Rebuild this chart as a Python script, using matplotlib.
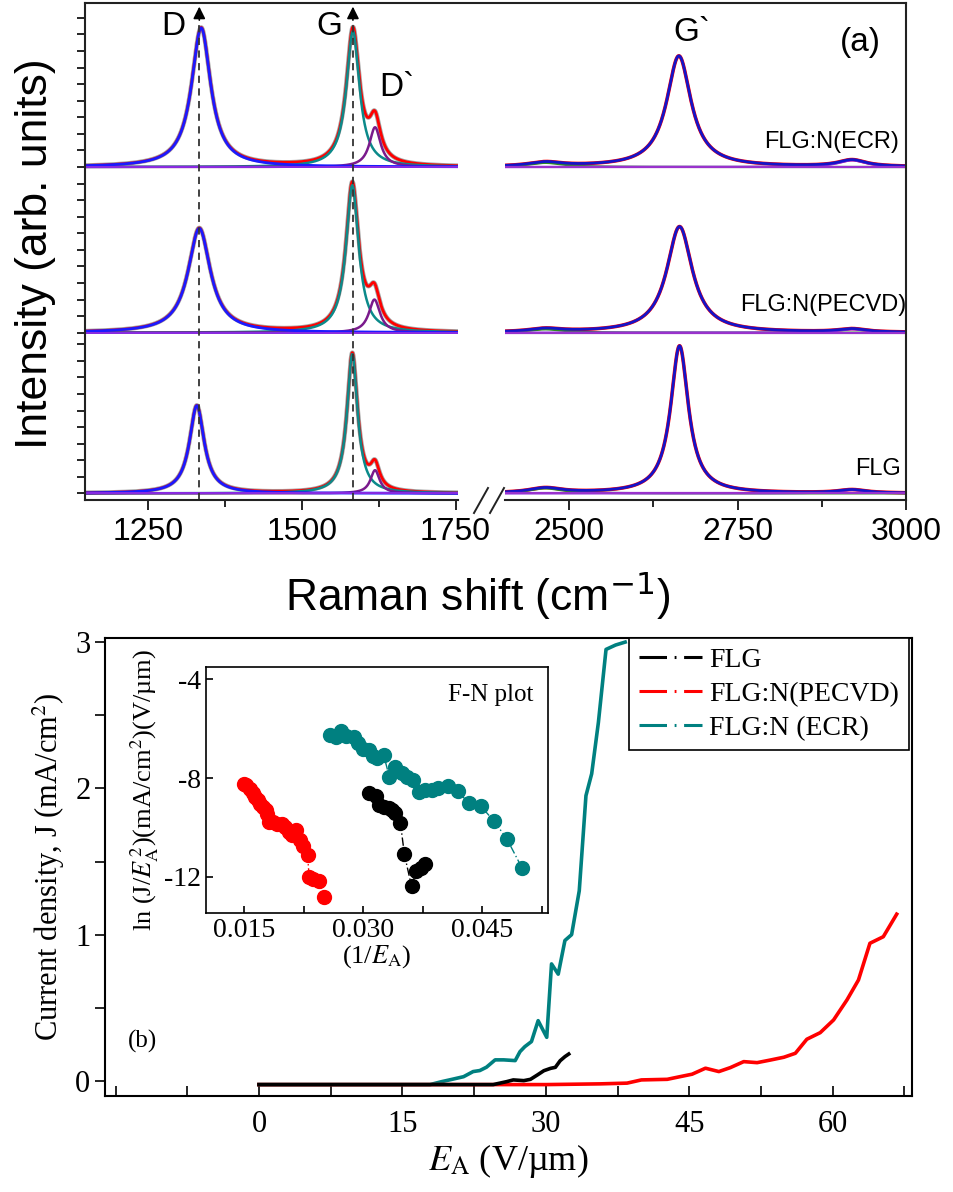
import numpy as np
import matplotlib.pyplot as plt
from matplotlib.lines import Line2D

W, H = 954, 1192
SANS = 'Liberation Sans'
SERIF = 'Liberation Serif'

# ---------------- (a) Raman spectra: peak parameters
# order: FLG, FLG:N(PECVD), FLG:N(ECR)  (bottom -> top)
sample_names = ['FLG', 'FLG:N(PECVD)', 'FLG:N(ECR)']
baselines = [0.04, 1.01, 2.01]
d_pos = [1329, 1333, 1336]
d_amp = [0.53, 0.63, 0.84]
d_fwhm = [29, 44, 38]
g_pos = [1582, 1582, 1583]
g_amp = [0.84, 0.89, 0.82]
g_fwhm = [21, 25, 26]
dp_pos = [1619, 1618, 1619]
dp_amp = [0.14, 0.20, 0.24]
dp_fwhm = [18, 22, 22]
g2_pos = [2664, 2664, 2663]
g2_amp = [0.89, 0.64, 0.67]
g2_fwhm = [32, 46, 44]
sb1_pos, sb1_fwhm = 2465, 60
sb1_amp = [0.03, 0.02, 0.025]
sb2_pos, sb2_fwhm = 2920, 50
sb2_amp = [0.02, 0.02, 0.04]

# ---------------- (b) field emission J-E curves
flg_E = [0, 5, 10, 15, 20, 24.5, 25.9, 26.6, 27.7, 28.4, 29.1, 29.8, 30.5, 31.0, 31.5, 32.0, 32.4]
flg_J = [-0.025, -0.025, -0.025, -0.025, -0.025, -0.025, -0.005, 0.007, 0.002, 0.011, 0.04, 0.07,
         0.086, 0.093, 0.138, 0.166, 0.184]
pecvd_E = [0, 10, 20, 30, 35.7, 38.5, 40.0, 42.7, 44.1, 45.3, 46.7, 48.1, 49.3, 50.7, 52.1, 53.5,
           54.9, 56.1, 57.3, 58.7, 60.1, 61.5, 62.7, 63.9, 65.3, 66.7]
pecvd_J = [-0.025, -0.025, -0.025, -0.025, -0.02, -0.015, 0.007, 0.011, 0.03, 0.046, 0.087, 0.064,
           0.091, 0.132, 0.125, 0.143, 0.162, 0.189, 0.285, 0.33, 0.417, 0.554, 0.69, 0.941, 0.986, 1.14]
ecr_E = [0, 5, 10, 15, 17.9, 19.1, 20.2, 21.4, 22.4, 23.1, 23.8, 24.7, 25.6, 26.8, 27.3, 27.8, 28.5,
         29.2, 30.1, 30.6, 31.3, 32.0, 32.7, 33.5, 34.2, 34.8, 35.5, 36.3, 37.3, 38.3]
ecr_J = [-0.025, -0.025, -0.025, -0.025, -0.025, -0.005, 0.011, 0.029, 0.064, 0.071, 0.094, 0.144,
         0.144, 0.139, 0.2, 0.234, 0.269, 0.412, 0.298, 0.8, 0.73, 0.96, 1.0, 1.3, 1.95, 2.1, 2.45,
         2.95, 2.98, 3.0]

# inset: F-N plot
fn_flg_x = [0.0308, 0.0316, 0.0320, 0.0326, 0.0332, 0.0337, 0.0340, 0.0347, 0.0352, 0.0361,
            0.0367, 0.0373, 0.0378]
fn_flg_y = [-8.59, -8.72, -9.09, -9.16, -9.20, -9.30, -9.41, -9.81, -11.08, -12.38, -11.76,
            -11.62, -11.49]
fn_pecvd_x = [0.0150, 0.0153, 0.0158, 0.0161, 0.0164, 0.0167, 0.0170, 0.0174, 0.0177, 0.0179,
              0.0182, 0.0187, 0.0191, 0.0198, 0.0202, 0.0206, 0.0210, 0.0216, 0.0221, 0.0224,
              0.0230, 0.0232, 0.0237, 0.0245, 0.0251]
fn_pecvd_y = [-8.24, -8.28, -8.42, -8.62, -8.76, -8.89, -9.03, -9.16, -9.30, -9.46, -9.77, -9.77,
              -9.84, -9.84, -9.97, -10.18, -10.31, -10.11, -10.51, -10.76, -11.12, -12.00, -12.07,
              -12.16, -12.81]
fn_ecr_x = [0.0258, 0.0266, 0.0272, 0.0279, 0.0288, 0.0293, 0.0300, 0.0307, 0.0313, 0.0318,
            0.0326, 0.0333, 0.0340, 0.0349, 0.0355, 0.0363, 0.0371, 0.0378, 0.0387, 0.0395,
            0.0407, 0.0419, 0.0433, 0.0448, 0.0465, 0.0481, 0.0500]
fn_ecr_y = [-6.26, -6.35, -6.08, -6.30, -6.35, -6.59, -6.80, -6.86, -7.11, -7.20, -7.07, -7.95,
            -7.54, -7.81, -7.95, -8.08, -8.58, -8.49, -8.46, -8.38, -8.31, -8.53, -9.00, -9.12,
            -9.74, -10.45, -11.62]


def lor(x, x0, a, w):
    return a / (1 + ((x - x0) / (w / 2.0)) ** 2)


def fx(px):
    return px / W


def fy(py):
    return 1 - py / H


plt.rcParams['xtick.major.width'] = 1.2
plt.rcParams['ytick.major.width'] = 1.2
plt.rcParams['xtick.minor.width'] = 1.2
plt.rcParams['ytick.minor.width'] = 1.2

fig = plt.figure(figsize=(W / 100, H / 100), dpi=100)

# ================= panel (a) =================
bot, top = 500, 3
axL = fig.add_axes([fx(85), fy(bot), fx(458 - 85), (bot - top) / H])
axR = fig.add_axes([fx(505), fy(bot), fx(906 - 505), (bot - top) / H])

xl = np.linspace(1147, 1754, 1500)
xr = np.linspace(2405, 3000, 1500)
for k in range(3):
    b = baselines[k]
    D = lor(xl, d_pos[k], d_amp[k], d_fwhm[k])
    G = lor(xl, g_pos[k], g_amp[k], g_fwhm[k])
    Dp = lor(xl, dp_pos[k], dp_amp[k], dp_fwhm[k])
    tot = D + G + Dp
    axL.plot(xl, b + tot, color='#8c8c8c', lw=3.2, alpha=0.8)
    axL.plot(xl, b + tot, color='red', lw=2.0)
    axL.plot(xl, b + G, color='#0b8a8a', lw=1.8)
    axL.plot(xl, b + Dp, color='#7a1a8c', lw=1.8)
    axL.plot(xl, b + D, color='#1a1aff', lw=2.0)
    axL.axhline(b, color='#8a2be2', lw=1.4)

    G2 = lor(xr, g2_pos[k], g2_amp[k], g2_fwhm[k])
    s1 = lor(xr, sb1_pos, sb1_amp[k], sb1_fwhm)
    s2 = lor(xr, sb2_pos, sb2_amp[k], sb2_fwhm)
    axR.plot(xr, b + G2 + s1 + s2, color='red', lw=2.6)
    axR.plot(xr, b + s1, color='#2e8b22', lw=1.6)
    axR.plot(xr, b + s2, color='#8a2be2', lw=1.6)
    axR.plot(xr, b + G2 + s1 + s2, color='#1414c8', lw=2.0)
    axR.axhline(b, color='#9932cc', lw=1.6)

# dashed guide lines with arrows at D and G
for xp in [1333, 1583]:
    axL.plot([xp, xp], [0, 2.9], color='#333333', lw=1.3, dashes=(4, 3))
    axL.annotate('', xy=(xp, 2.995), xytext=(xp, 2.88),
                 arrowprops=dict(arrowstyle='-|>', color='k', lw=1.2, mutation_scale=18))

axL.set_xlim(1147, 1754)
axR.set_xlim(2405, 3000)
for ax in (axL, axR):
    ax.set_ylim(0, 3)
    ax.spines['top'].set_visible(False)
    for s in ax.spines.values():
        s.set_linewidth(1.5)
        s.set_color('#222222')
    ax.tick_params(axis='x', which='both', direction='out', length=7, pad=5)
    ax.tick_params(axis='x', which='minor', length=5)
axL.spines['right'].set_visible(False)
axR.spines['left'].set_visible(False)
axL.set_xticks([1250, 1500, 1750])
axL.set_xticks([1375, 1625], minor=True)
axR.set_xticks([2500, 2750, 3000])
axR.set_xticks([2625, 2875], minor=True)
for ax in (axL, axR):
    ax.set_xticklabels([str(int(t)) for t in ax.get_xticks()], family=SANS, fontsize=23)
yt = [b + 0.1 * j for b in baselines for j in range(10)]
axL.set_yticks(yt)
axL.set_yticklabels([])
axL.tick_params(axis='y', direction='out', length=6)
axR.set_yticks([])

# continuous top border and axis-break marks
fig.add_artist(Line2D([fx(85), fx(906)], [fy(3), fy(3)], color='#222222', lw=1.5))
for cx in (481, 497):
    fig.add_artist(Line2D([fx(cx - 7), fx(cx + 7)], [fy(513), fy(488)], color='#222222', lw=1.4))

ann = dict(family=SANS, fontsize=24, ha='center', va='center')
axL.text(1291, 2.86, 'D', **ann)
axL.text(1545, 2.86, 'G', **ann)
axL.text(1654, 2.49, 'D`', **ann)
axR.text(2682, 2.82, 'G`', **ann)
axR.text(2932, 2.76, '(a)', **ann)
axR.text(2990, 2.16, 'FLG:N(ECR)', family=SANS, fontsize=17, ha='right', va='center')
axR.text(3000, 1.18, 'FLG:N(PECVD)', family=SANS, fontsize=17, ha='right', va='center')
axR.text(2992, 0.19, 'FLG', family=SANS, fontsize=17, ha='right', va='center')

fig.text(fx(36), fy(254), 'Intensity (arb. units)', rotation=90, family=SANS, fontsize=32,
         ha='center', va='center')
fig.text(fx(478), fy(596), 'Raman shift (cm$^{-1}$)', family=SANS, fontsize=32,
         ha='center', va='center', math_fontfamily='dejavusans')

# ================= panel (b) =================
axB = fig.add_axes([fx(105), fy(1096), fx(912 - 105), (1096 - 638) / H])
axB.plot(ecr_E, ecr_J, color='#008080', lw=2.6)
axB.plot(pecvd_E, pecvd_J, color='red', lw=2.6)
axB.plot(flg_E, flg_J, color='black', lw=2.6)
axB.set_xlim(-16.1, 68.3)
axB.set_ylim(-0.103, 3.028)
axB.set_xticks([0, 15, 30, 45, 60])
axB.set_xticks([-15, -7.5, 7.5, 22.5, 37.5, 52.5, 67.5], minor=True)
axB.set_yticks([0, 1, 2, 3])
axB.set_yticks([0.5, 1.5, 2.5], minor=True)
axB.set_xticklabels(['0', '15', '30', '45', '60'], family=SERIF, fontsize=22)
axB.set_yticklabels(['0', '1', '2', '3'], family=SERIF, fontsize=22)
axB.tick_params(axis='x', which='both', direction='in', length=7, pad=10)
axB.tick_params(axis='y', which='both', direction='out', length=7)
for s in axB.spines.values():
    s.set_linewidth(1.5)
axB.set_xlabel('$E_\\mathrm{A}$ (V/µm)', family=SERIF, fontsize=26, math_fontfamily='stix',
               labelpad=2)
axB.set_ylabel('Current density, J (mA/cm$^2$)', family=SERIF, fontsize=22,
               math_fontfamily='stix', labelpad=6)
axB.text(-12.2, 0.27, '(b)', family=SERIF, fontsize=18, ha='center', va='center')

dd = (0, (9, 2.5, 0.6, 2.5))
handles = [Line2D([], [], color='black', lw=2.2, ls=dd),
           Line2D([], [], color='red', lw=2.2, ls=dd),
           Line2D([], [], color='#008080', lw=2.2, ls=dd)]
leg = axB.legend(handles, ['FLG', 'FLG:N(PECVD)', 'FLG:N (ECR)'], loc='upper right',
                 bbox_to_anchor=(fx(909), fy(638)), bbox_transform=fig.transFigure,
                 borderaxespad=0, prop={'family': SERIF, 'size': 20}, fancybox=False,
                 framealpha=1, edgecolor='black', handlelength=2.3, handletextpad=0.25,
                 labelspacing=0.3, borderpad=0.35)
leg.get_frame().set_linewidth(1.2)

# inset F-N plot
axI = fig.add_axes([fx(206), fy(913), fx(548 - 206), (913 - 667) / H])
dl = (0, (6, 2, 1, 2))
axI.plot(fn_pecvd_x, fn_pecvd_y, color='red', lw=1.0, ls=dl, marker='o', ms=10, mec='red')
axI.plot(fn_flg_x, fn_flg_y, color='black', lw=1.0, ls=dl, marker='o', ms=10)
axI.plot(fn_ecr_x, fn_ecr_y, color='#008080', lw=1.0, ls=dl, marker='o', ms=10, mec='#008080')
axI.set_xlim(0.0102, 0.0533)
axI.set_ylim(-13.46, -3.5)
axI.set_xticks([0.015, 0.030, 0.045])
axI.set_xticks([0.0225, 0.0375, 0.0525], minor=True)
axI.set_xticklabels(['0.015', '0.030', '0.045'], family=SERIF, fontsize=20)
axI.set_yticks([-4, -8, -12])
axI.set_yticklabels(['-4', '-8', '-12'], family=SERIF, fontsize=20)
axI.tick_params(axis='both', which='both', direction='in', length=5)
for s in axI.spines.values():
    s.set_linewidth(1.2)
axI.set_xlabel('(1/$E_\\mathrm{A}$)', family=SERIF, fontsize=19, math_fontfamily='stix',
               labelpad=0)
axI.set_ylabel('ln (J/$E_\\mathrm{A}^{\\,2}$)(mA/cm$^2$)(V/µm)', family=SERIF, fontsize=19,
               math_fontfamily='stix', labelpad=2)
axI.text(0.0407, -4.64, 'F-N plot', family=SERIF, fontsize=18, ha='left', va='center')

fig.savefig('out.png', dpi=100)
